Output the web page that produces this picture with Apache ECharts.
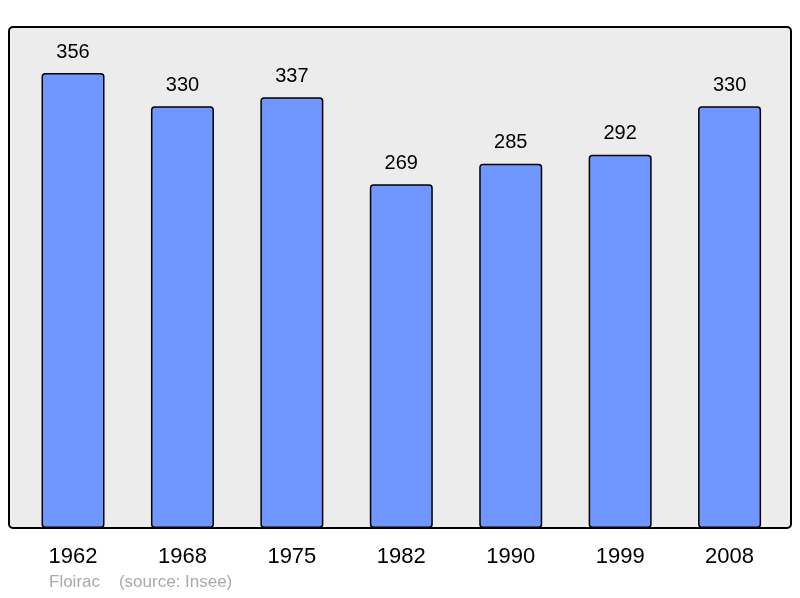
<!DOCTYPE html>
<html><head><meta charset="utf-8">
<script src="https://cdn.jsdelivr.net/npm/echarts@6/dist/echarts.min.js"></script>
<style>html,body{margin:0;padding:0;background:#fff}#c{width:800px;height:598px}</style>
</head><body><div id="c"></div>
<script>
const categories = ['1962','1968','1975','1982','1990','1999','2008'];
const populations = [356, 330, 337, 269, 285, 292, 330];
const footerText = 'Floirac    (source: Insee)';

const chart = echarts.init(document.getElementById('c'), null, {renderer:'canvas'});
chart.setOption({
  animation: false,
  backgroundColor: '#ffffff',
  graphic: [
    {type:'rect', shape:{x:9, y:27, width:782, height:501, r:4}, style:{fill:'#ececec', stroke:'#000', lineWidth:2}, z:-10},
    {type:'text', left:49, top:574, style:{text:footerText, fill:'#aaaaaa', font:'17px "Liberation Sans", Arial, sans-serif'}}
  ],
  grid: {left:18.3, top:27, width:766, height:501, containLabel:false},
  xAxis: {
    type:'category', data:categories,
    axisLine:{show:false}, axisTick:{show:false},
    axisLabel:{color:'#000', fontSize:22, fontFamily:'"Liberation Sans", Arial, sans-serif', margin:18}
  },
  yAxis: {type:'value', min:0, max:392, show:false, splitLine:{show:false}},
  series: [{
    type:'bar', data:populations, barWidth:63,
    itemStyle:{color:'#7096ff', borderColor:'#000', borderWidth:1.5, borderRadius:3},
    label:{show:true, position:'top', distance:11, color:'#000', fontSize:20, fontFamily:'"Liberation Sans", Arial, sans-serif'}
  }]
});
</script></body></html>
